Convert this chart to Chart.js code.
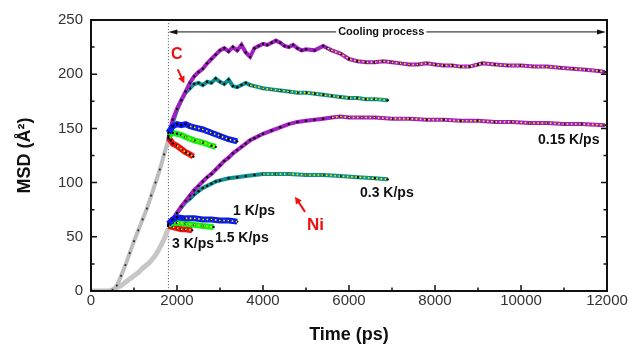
<!DOCTYPE html>
<html>
<head>
<meta charset="utf-8">
<script src="https://cdn.jsdelivr.net/npm/chart.js@4.4.1/dist/chart.umd.min.js"></script>
<style>
  html, body { margin: 0; padding: 0; background: #fff; }
  #wrap { width: 633px; height: 346px; }
</style>
</head>
<body>
<div id="wrap"><canvas id="msd"></canvas></div>
<script>
// heating stage (0 - 1800 ps)
const tHeat = [0, 200, 400, 500, 600, 700, 800, 900, 1000, 1100, 1200, 1300, 1400, 1500, 1600, 1700, 1800];
const cHeat = [0, 0, 0, 1, 5, 14, 24, 35, 46, 56, 66, 76, 88, 100, 112, 126, 140];
const niHeat = [0, 0, 0, 1, 3, 5, 8, 11, 14, 17, 21, 24, 28, 33, 40, 48, 58];

// C, 0.15 K/ps
const tC015 = [1800, 1850, 1900, 2000, 2100, 2200, 2300, 2400, 2500, 2600, 2700, 2800, 2900, 3000, 3100, 3200, 3300, 3400, 3500, 3600, 3700, 3800, 3900, 4000, 4100, 4200, 4300, 4400, 4500, 4600, 4700, 4800, 4900, 5000, 5200, 5400, 5500, 5600, 5800, 6000, 6200, 6400, 6600, 6800, 7000, 7200, 7400, 7600, 7800, 8000, 8200, 8400, 8600, 8800, 9000, 9100, 9400, 9700, 10000, 10300, 10600, 10900, 11200, 11500, 11800, 11950];
const vC015 = [140, 150, 158, 168, 176, 184, 192, 198, 202, 205, 210, 214, 218, 222, 224, 221, 225, 222, 227, 220, 216, 224, 226, 228, 227, 229, 231, 229, 226, 225, 227, 224, 222, 223, 222, 226, 224, 222, 219, 214, 212, 211, 211, 212, 211, 210, 209, 209, 210, 209, 208, 208, 207, 207, 209, 210, 209, 208, 208, 207, 207, 206, 205, 204, 203, 202];
// C, 0.3 K/ps
const tC03 = [1800, 1850, 1900, 2000, 2100, 2200, 2300, 2400, 2500, 2600, 2700, 2800, 2900, 3000, 3100, 3200, 3300, 3400, 3500, 3600, 3700, 3800, 4000, 4200, 4400, 4600, 4800, 5000, 5200, 5400, 5600, 5800, 6000, 6200, 6400, 6600, 6900];
const vC03 = [140, 148, 155, 167, 176, 183, 187, 191, 192, 190, 193, 192, 196, 193, 191, 195, 189, 188, 190, 192, 190, 189, 187, 186, 185, 184, 183, 183, 182, 181, 180, 179, 178, 178, 177, 177, 176];
// C, 1 K/ps
const tC1 = [1800, 1900, 2000, 2100, 2200, 2300, 2400, 2600, 2800, 3000, 3200, 3400];
const vC1 = [146, 152, 154, 153, 154, 152, 151, 149, 146, 143, 140, 138];
// C, 1.5 K/ps
const tC15 = [1800, 1900, 2000, 2100, 2200, 2400, 2600, 2800, 2900];
const vC15 = [143, 146, 145, 144, 142, 139, 137, 134, 133];
// C, 3 K/ps
const tC3 = [1800, 1850, 1900, 2000, 2100, 2200, 2300, 2380];
const vC3 = [141, 139, 136, 134, 131, 128, 126, 124];

// Ni, 0.15 K/ps
const tN015 = [1800, 1900, 2000, 2100, 2200, 2300, 2400, 2500, 2600, 2700, 2800, 2900, 3000, 3100, 3200, 3300, 3400, 3500, 3600, 3700, 3800, 3900, 4000, 4200, 4400, 4600, 4800, 5000, 5200, 5400, 5600, 5800, 6000, 6300, 6600, 7000, 7400, 7800, 8200, 8600, 9000, 9400, 9800, 10200, 10600, 11000, 11400, 11950];
const vN015 = [60, 66, 72, 78, 83, 88, 93, 97, 101, 105, 108, 112, 116, 120, 123, 127, 130, 133, 136, 139, 141, 143, 145, 148, 151, 154, 156, 157, 158, 159, 160, 161, 160, 160, 160, 159, 159, 158, 158, 157, 157, 156, 156, 155, 155, 154, 154, 153];
// Ni, 0.3 K/ps
const tN03 = [1800, 1900, 2000, 2100, 2200, 2300, 2400, 2500, 2600, 2700, 2800, 2900, 3000, 3200, 3400, 3600, 3800, 4000, 4300, 4600, 5000, 5400, 5800, 6200, 6600, 6900];
const vN03 = [60, 66, 72, 77, 82, 85, 89, 92, 95, 97, 99, 101, 102, 104, 105, 106, 107, 108, 108, 108, 107, 107, 106, 105, 104, 103];
// Ni, 1 K/ps
const tN1 = [1800, 1900, 2000, 2200, 2400, 2600, 2800, 3000, 3200, 3400];
const vN1 = [62, 66, 68, 67, 67, 66, 66, 65, 65, 64];
// Ni, 1.5 K/ps
const tN15 = [1800, 1900, 2000, 2200, 2400, 2600, 2850];
const vN15 = [61, 63, 63, 62, 61, 60, 59];
// Ni, 3 K/ps
const tN3 = [1800, 1900, 2000, 2100, 2200, 2350];
const vN3 = [60, 59, 58, 57, 57, 56];

const coolStart = 1800;
const xTicks = [0, 2000, 4000, 6000, 8000, 10000, 12000];
const yTicks = [0, 50, 100, 150, 200, 250];

const FONT = '"Liberation Sans", Arial, sans-serif';
const PURPLE = '#a31fc4', TEAL = '#0e8f8f', BLUE = '#0a1cf0', GREEN = '#14f014', RED = '#f01010';

const cooling = [
  { t: tC015, v: vC015, color: PURPLE, width: 4, yellowFrom: 5500 },
  { t: tC03, v: vC03, color: TEAL, width: 4, yellowFrom: 3700 },
  { t: tC1, v: vC1, color: BLUE, width: 6, yellowFrom: 2300 },
  { t: tC15, v: vC15, color: GREEN, width: 6, yellowFrom: 2100 },
  { t: tC3, v: vC3, color: RED, width: 6, yellowFrom: 1950 },
  { t: tN015, v: vN015, color: PURPLE, width: 4, yellowFrom: 5600 },
  { t: tN03, v: vN03, color: TEAL, width: 4, yellowFrom: 4000 },
  { t: tN1, v: vN1, color: BLUE, width: 6, yellowFrom: 2200 },
  { t: tN15, v: vN15, color: GREEN, width: 6, yellowFrom: 2000 },
  { t: tN3, v: vN3, color: RED, width: 6, yellowFrom: 1900 },
];

const pts = (t, v) => t.map((x, i) => ({ x, y: v[i] }));

const datasets = [
  { data: pts(tHeat, niHeat), borderColor: '#c6c6c6', borderWidth: 5, pointRadius: 0, tension: 0.3, order: 5 },
  { data: pts(tHeat, cHeat), borderColor: '#bdbdbd', borderWidth: 4, pointRadius: 1.1,
    pointBackgroundColor: '#333', pointBorderWidth: 0, tension: 0.3, order: 4 },
];
cooling.forEach((s, i) => {
  datasets.push({ data: pts(s.t, s.v), borderColor: s.color, borderWidth: s.width, pointRadius: 1.2,
    pointBackgroundColor: '#000', pointBorderWidth: 0, order: 2 + (i % 5 < 2 ? 1 : 0) });
  datasets.push({ data: pts(s.t, s.v).filter((p) => p.x >= s.yellowFrom), borderColor: '#f2f200',
    borderWidth: 1.6, borderDash: [1.6, 2.6], pointRadius: 0, order: 1 });
});

// text labels, in data coordinates
const notes = [
  { text: 'C', x: 1993, y: 218, font: 'bold 16px ' + FONT, color: RED },
  { text: 'Ni', x: 5221, y: 61, font: 'bold 17px ' + FONT, color: RED },
  { text: '0.15 K/ps', x: 10395, y: 139, font: 'bold 14px ' + FONT, color: '#111', align: 'left' },
  { text: '0.3 K/ps', x: 6256, y: 90, font: 'bold 14px ' + FONT, color: '#111', align: 'left' },
  { text: '1 K/ps', x: 3302, y: 74, font: 'bold 14px ' + FONT, color: '#111', align: 'left' },
  { text: '1.5 K/ps', x: 2884, y: 49, font: 'bold 14px ' + FONT, color: '#111', align: 'left' },
  { text: '3 K/ps', x: 1884, y: 43, font: 'bold 14px ' + FONT, color: '#111', align: 'left' },
];
const redArrows = [
  { from: [2016, 204.5], to: [2170, 191.5] },
  { from: [4977, 73], to: [4744, 87] },
];
const coolLabel = { text: 'Cooling process', x: 6750, y: 239 };

function arrowHead(ctx, x1, y1, x2, y2, len, half) {
  const a = Math.atan2(y2 - y1, x2 - x1);
  ctx.beginPath();
  ctx.moveTo(x2, y2);
  ctx.lineTo(x2 - len * Math.cos(a) + half * Math.sin(a), y2 - len * Math.sin(a) - half * Math.cos(a));
  ctx.lineTo(x2 - len * Math.cos(a) - half * Math.sin(a), y2 - len * Math.sin(a) + half * Math.cos(a));
  ctx.closePath();
  ctx.fill();
}

const decor = {
  id: 'decor',
  beforeDatasetsDraw(chart) {
    const { ctx, chartArea: a, scales: { x } } = chart;
    const px = x.getPixelForValue(coolStart);
    ctx.save();
    ctx.strokeStyle = '#666';
    ctx.lineWidth = 1;
    ctx.setLineDash([1.2, 1.8]);
    ctx.beginPath();
    ctx.moveTo(px, a.top);
    ctx.lineTo(px, a.bottom);
    ctx.stroke();
    ctx.restore();
  },
  afterDraw(chart) {
    const { ctx, chartArea: a, scales: { x, y } } = chart;
    ctx.save();
    // frame + inward ticks
    ctx.strokeStyle = '#111';
    ctx.lineWidth = 2;
    ctx.strokeRect(a.left, a.top, a.right - a.left, a.bottom - a.top);
    ctx.lineWidth = 1.5;
    ctx.beginPath();
    for (let v = x.min; v <= x.max; v += 1000) {
      const p = x.getPixelForValue(v);
      const l = v % 2000 === 0 ? 6 : 3.5;
      ctx.moveTo(p, a.bottom); ctx.lineTo(p, a.bottom - l);
    }
    for (let v = y.min; v <= y.max; v += 25) {
      const p = y.getPixelForValue(v);
      const l = v % 50 === 0 ? 6 : 3.5;
      ctx.moveTo(a.left, p); ctx.lineTo(a.left + l, p);
      ctx.moveTo(a.right, p); ctx.lineTo(a.right - l, p);
    }
    ctx.stroke();

    // cooling process arrow
    const yc = y.getPixelForValue(coolLabel.y);
    const xs = x.getPixelForValue(coolStart), xe = x.getPixelForValue(x.max) - 1;
    const xm = x.getPixelForValue(coolLabel.x);
    ctx.font = 'bold 11px ' + FONT;
    const w = ctx.measureText(coolLabel.text).width;
    ctx.fillStyle = '#111';
    ctx.strokeStyle = '#111';
    ctx.lineWidth = 1;
    ctx.beginPath();
    ctx.moveTo(xs + 4, yc); ctx.lineTo(xm - w / 2 - 2, yc);
    ctx.moveTo(xm + w / 2 + 2, yc); ctx.lineTo(xe - 4, yc);
    ctx.stroke();
    arrowHead(ctx, xs + 10, yc, xs, yc, 9, 2.5);
    arrowHead(ctx, xe - 10, yc, xe, yc, 9, 2.5);
    ctx.textAlign = 'center';
    ctx.textBaseline = 'middle';
    ctx.fillText(coolLabel.text, xm, yc);

    // red arrows
    ctx.strokeStyle = RED;
    ctx.fillStyle = RED;
    ctx.lineWidth = 2;
    redArrows.forEach((r) => {
      const x1 = x.getPixelForValue(r.from[0]), y1 = y.getPixelForValue(r.from[1]);
      const x2 = x.getPixelForValue(r.to[0]), y2 = y.getPixelForValue(r.to[1]);
      const a2 = Math.atan2(y2 - y1, x2 - x1);
      ctx.beginPath();
      ctx.moveTo(x1, y1);
      ctx.lineTo(x2 - 5 * Math.cos(a2), y2 - 5 * Math.sin(a2));
      ctx.stroke();
      arrowHead(ctx, x1, y1, x2, y2, 7, 3.5);
    });

    // labels
    notes.forEach((n) => {
      ctx.font = n.font;
      ctx.fillStyle = n.color;
      ctx.textAlign = n.align || 'center';
      ctx.textBaseline = 'middle';
      ctx.fillText(n.text, x.getPixelForValue(n.x), y.getPixelForValue(n.y));
    });
    ctx.restore();
  },
};

new Chart(document.getElementById('msd'), {
  type: 'scatter',
  data: { datasets },
  options: {
    responsive: true,
    maintainAspectRatio: false,
    animation: false,
    showLine: true,
    layout: { padding: { left: 0, right: 26, top: 20, bottom: 0 } },
    plugins: { legend: { display: false }, tooltip: { enabled: false } },
    scales: {
      x: {
        type: 'linear', min: 0, max: 12000,
        afterBuildTicks: (s) => { s.ticks = xTicks.map((value) => ({ value })); },
        afterFit: (s) => { s.height = 55; },
        grid: { display: false, drawTicks: false },
        border: { display: false },
        ticks: { padding: 1, color: '#333', font: { family: FONT, size: 15 }, maxRotation: 0,
          callback: (v) => String(v) },
        title: { display: true, text: 'Time (ps)', color: '#111', padding: { top: 0, bottom: 0 },
          font: { family: FONT, size: 18, weight: 'bold' } },
      },
      y: {
        type: 'linear', min: 0, max: 250,
        afterBuildTicks: (s) => { s.ticks = yTicks.map((value) => ({ value })); },
        afterFit: (s) => { s.width = 91; },
        grid: { display: false, drawTicks: false },
        border: { display: false },
        ticks: { padding: 8, color: '#333', font: { family: FONT, size: 15 }, callback: (v) => String(v) },
        title: { display: true, text: 'MSD (Å²)', color: '#111', padding: { top: 14, bottom: 0 },
          font: { family: FONT, size: 18, weight: 'bold' } },
      },
    },
  },
  plugins: [decor],
});
</script>
</body>
</html>
